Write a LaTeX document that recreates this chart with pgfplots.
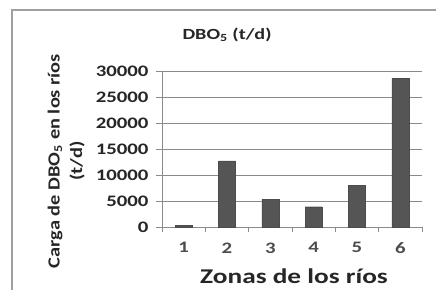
\documentclass[border=0pt]{standalone}
\usepackage{fontspec}
\setmainfont{Carlito}
\usepackage{graphicx}
\usepackage{pgfplots}
\pgfplotsset{compat=1.18}
\definecolor{bargray}{HTML}{555555}
\definecolor{gridgray}{HTML}{8A8A8A}
\definecolor{framegray}{HTML}{A0A0A0}
\newcommand{\wide}[1]{\scalebox{1.3}[1]{#1}}
\begin{document}
\begin{tikzpicture}[x=1pt,y=1pt]
\useasboundingbox (0,0) rectangle (436,290);
\draw[framegray,line width=1.2pt] (12,0) -- (12,280) -- (436,280);
\begin{axis}[
  at={(162pt,63pt)}, anchor=south west,
  scale only axis, width=260pt, height=156pt,
  xmin=0.5, xmax=6.5, ymin=0, ymax=30000,
  axis x line=bottom, axis y line=left,
  axis line style={gridgray, line width=0.8pt, -},
  xtick={1,2,3,4,5,6},
  minor xtick={0.5,1.5,2.5,3.5,4.5,5.5,6.5},
  major x tick style={draw=none},
  minor x tick style={gridgray, line width=0.8pt},
  ytick={0,5000,10000,15000,20000,25000,30000},
  ymajorgrids,
  grid style={gridgray, line width=0.8pt},
  tick align=outside,
  major tick length=6pt, minor tick length=5pt,
  y tick style={gridgray, line width=0.8pt},
  scaled y ticks=false,
  /pgf/number format/.cd, 1000 sep={}, assume math mode=true,
  /pgfplots/.cd,
  xticklabel={\wide{\pgfmathprintnumber{\tick}}},
  yticklabel={\wide{\pgfmathprintnumber{\tick}}},
  ticklabel style={font=\fontsize{16}{18}\selectfont\bfseries, text=black!85},
  xticklabel style={yshift=-6pt, text=black!70},
  yticklabel style={xshift=-4pt},
  clip=false,
]
\addplot[ybar, bar width=17pt, fill=bargray, draw=black!70] coordinates {
  (1,300) (2,12700) (3,5300) (4,3900) (5,8000) (6,28600)
};
\end{axis}
\node[font=\fontsize{15.5}{17}\selectfont\bfseries, text=black!85] at (227,255) {\wide{DBO\textsubscript{5} (t/d)}};
\node[font=\fontsize{21}{23}\selectfont\bfseries, text=black!85, anchor=base] at (294,7) {\wide{Zonas de los ríos}};
\node[font=\fontsize{17}{19}\selectfont\bfseries, text=black!85, rotate=90] at (55,129) {\scalebox{1.2}[1]{Carga de DBO\textsubscript{5} en los ríos}};
\node[font=\fontsize{17}{19}\selectfont\bfseries, text=black!85, rotate=90] at (77,129) {\scalebox{1.2}[1]{(t/d)}};
\end{tikzpicture}
\end{document}
